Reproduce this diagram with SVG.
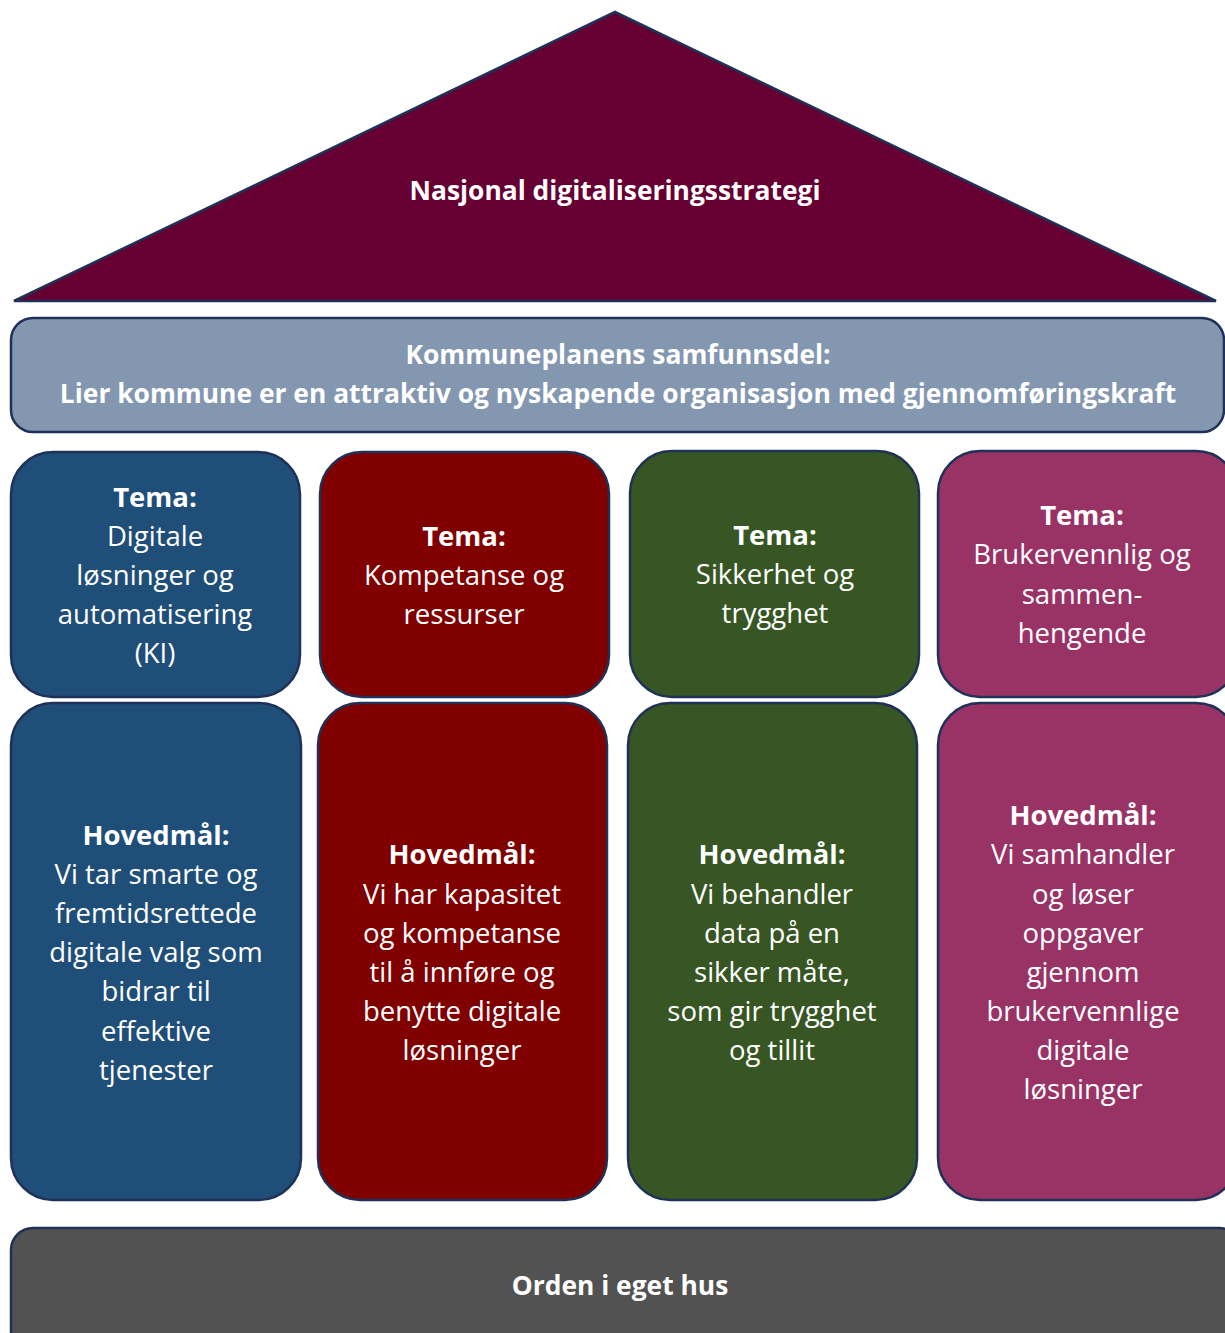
<svg xmlns="http://www.w3.org/2000/svg" width="1225" height="1333" viewBox="0 0 1225 1333">
<style>
.box{stroke:#1f3157;stroke-width:2.5}
text{font-family:"Open Sans","Noto Sans","Liberation Sans",sans-serif;fill:#ffffff;text-anchor:middle}
.t{font-size:27.5px}
.b{font-weight:bold}
.h{font-size:26.4px;font-weight:bold}
.blue{fill:#1f4e79}.red{fill:#800000}.green{fill:#375623}.pink{fill:#993366}
</style>
<rect width="1225" height="1333" fill="#ffffff"/>
<g id="roof">
<polygon class="box" points="615,12 14,301 1216,301" fill="#660033"/>
<text class="h" x="615" y="200">Nasjonal digitaliseringsstrategi</text>
</g>
<g id="banner">
<rect class="box" x="11" y="318" width="1213" height="114" rx="22" fill="#8497b0"/>
<text class="h" x="618" y="364">Kommuneplanens samfunnsdel:</text>
<text class="h" x="618" y="403">Lier kommune er en attraktiv og nyskapende organisasjon med gjennomføringskraft</text>
</g>
<g id="tema1">
<rect class="box blue" x="11" y="452" width="289" height="245" rx="42"/>
<text class="t" x="155"><tspan class="b" x="155" y="507">Tema:</tspan><tspan x="155" y="546">Digitale</tspan><tspan x="155" y="585">løsninger og</tspan><tspan x="155" y="624">automatisering</tspan><tspan x="155" y="663">(KI)</tspan></text>
</g>
<g id="tema2">
<rect class="box red" x="320" y="452" width="289" height="245" rx="42"/>
<text class="t" x="464"><tspan class="b" x="464" y="546">Tema:</tspan><tspan x="464" y="585">Kompetanse og</tspan><tspan x="464" y="624">ressurser</tspan></text>
</g>
<g id="tema3">
<rect class="box green" x="630" y="451" width="289" height="246" rx="42"/>
<text class="t" x="775"><tspan class="b" x="775" y="545">Tema:</tspan><tspan x="775" y="584">Sikkerhet og</tspan><tspan x="775" y="623">trygghet</tspan></text>
</g>
<g id="tema4">
<rect class="box pink" x="938" y="451" width="300" height="246" rx="42"/>
<text class="t" x="1082"><tspan class="b" x="1082" y="525">Tema:</tspan><tspan x="1082" y="564">Brukervennlig og</tspan><tspan x="1082" y="604">sammen-</tspan><tspan x="1082" y="643">hengende</tspan></text>
</g>
<g id="maal1">
<rect class="box blue" x="11" y="703" width="290" height="497" rx="42"/>
<text class="t" x="156"><tspan class="b" x="156" y="845">Hovedmål:</tspan><tspan x="156" y="884">Vi tar smarte og</tspan><tspan x="156" y="923">fremtidsrettede</tspan><tspan x="156" y="962">digitale valg som</tspan><tspan x="156" y="1001">bidrar til</tspan><tspan x="156" y="1041">effektive</tspan><tspan x="156" y="1080">tjenester</tspan></text>
</g>
<g id="maal2">
<rect class="box red" x="318" y="703" width="289" height="497" rx="42"/>
<text class="t" x="462"><tspan class="b" x="462" y="864">Hovedmål:</tspan><tspan x="462" y="904">Vi har kapasitet</tspan><tspan x="462" y="943">og kompetanse</tspan><tspan x="462" y="982">til å innføre og</tspan><tspan x="462" y="1021">benytte digitale</tspan><tspan x="462" y="1060">løsninger</tspan></text>
</g>
<g id="maal3">
<rect class="box green" x="628" y="703" width="289" height="497" rx="42"/>
<text class="t" x="772"><tspan class="b" x="772" y="864">Hovedmål:</tspan><tspan x="772" y="904">Vi behandler</tspan><tspan x="772" y="943">data på en</tspan><tspan x="772" y="982">sikker måte,</tspan><tspan x="772" y="1021">som gir trygghet</tspan><tspan x="772" y="1060">og tillit</tspan></text>
</g>
<g id="maal4">
<rect class="box pink" x="938" y="703" width="300" height="497" rx="42"/>
<text class="t" x="1083"><tspan class="b" x="1083" y="825">Hovedmål:</tspan><tspan x="1083" y="864">Vi samhandler</tspan><tspan x="1083" y="904">og løser</tspan><tspan x="1083" y="943">oppgaver</tspan><tspan x="1083" y="982">gjennom</tspan><tspan x="1083" y="1021">brukervennlige</tspan><tspan x="1083" y="1060">digitale</tspan><tspan x="1083" y="1099">løsninger</tspan></text>
</g>
<g id="base">
<rect class="box" x="11" y="1228" width="1230" height="130" rx="22" fill="#525252"/>
<text class="h" x="620" y="1295">Orden i eget hus</text>
</g>
<g id="connectors"></g>
</svg>
